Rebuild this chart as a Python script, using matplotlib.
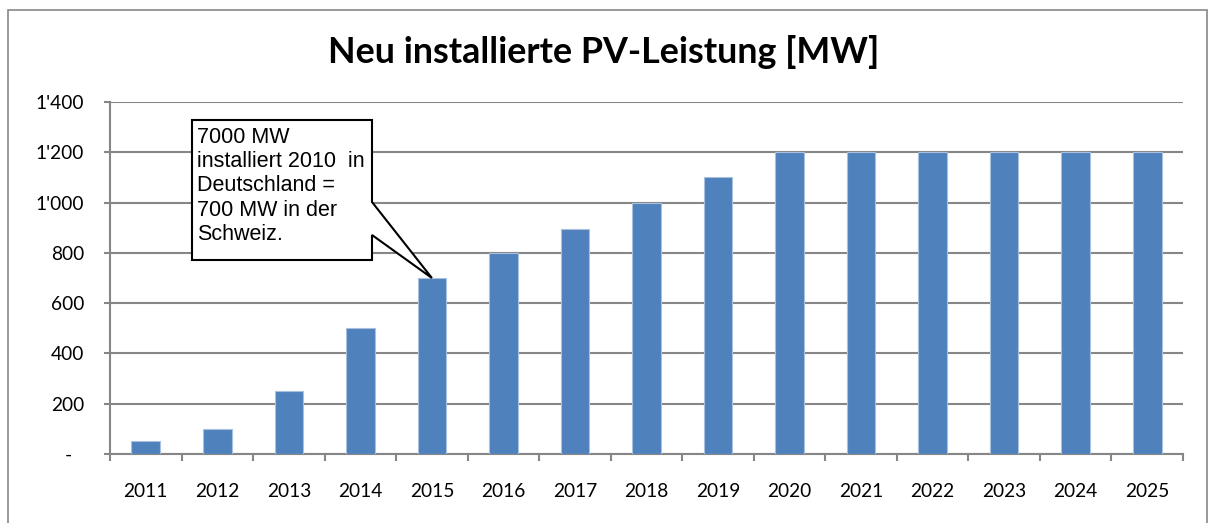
import matplotlib
matplotlib.use("Agg")
import matplotlib.pyplot as plt
from matplotlib.patches import Rectangle, Polygon
from matplotlib.transforms import ScaledTranslation
from matplotlib.ticker import FixedLocator

years = [str(y) for y in range(2011, 2026)]
values = [50, 100, 250, 500, 700, 800, 895, 1000, 1100, 1200, 1200, 1200, 1200, 1200, 1200]
yticks = [0, 200, 400, 600, 800, 1000, 1200, 1400]
ytick_labels = ["-", "200", "400", "600", "800", "1'000", "1'200", "1'400"]
title = "Neu installierte PV-Leistung [MW]"
note = "7000 MW\ninstalliert 2010  in\nDeutschland =\n700 MW in der\nSchweiz."
note_index = 4

W, H = 1212, 523
fig = plt.figure(figsize=(W / 100, H / 100), dpi=100)
fig.patch.set_facecolor("white")

# outer chart border
fig.patches.append(Rectangle((8 / W, -0.02), (1207 - 8) / W, 1 - 10 / H + 0.02,
                             transform=fig.transFigure, fill=False,
                             edgecolor="#878787", lw=1.2))

ax = fig.add_axes([110 / W, 1 - 454 / H, (1183 - 110) / W, (454 - 102) / H])
grid_c = "#868686"
x = list(range(len(years)))
ax.bar(x, values, width=0.4, color="#4F81BD", edgecolor="#A9C1DF", lw=0.8, zorder=3)

ax.set_xlim(-0.5, len(years) - 0.5)
ax.set_ylim(0, 1400)
ax.set_yticks(yticks)
ax.set_yticklabels(ytick_labels)
ax.yaxis.grid(True, color=grid_c, lw=1.5, zorder=0)
ax.set_axisbelow(True)

ax.set_xticks(x)
ax.set_xticklabels(years)
ax.xaxis.set_minor_locator(FixedLocator([i - 0.5 for i in range(len(years) + 1)]))
ax.tick_params(axis="x", which="major", length=0, pad=21)
ax.tick_params(axis="x", which="minor", length=5, width=1.5, color=grid_c, direction="out")
ax.tick_params(axis="y", length=4.5, width=1.5, color=grid_c, direction="out", pad=14)

for s in ["top", "right"]:
    ax.spines[s].set_visible(False)
for s in ["left", "bottom"]:
    ax.spines[s].set_color(grid_c)
    ax.spines[s].set_linewidth(1.5)

for lab in ax.get_xticklabels() + ax.get_yticklabels():
    lab.set_fontfamily("Lato")
    lab.set_fontsize(13.8)
    lab.set_color("black")

zero_lab = ax.get_yticklabels()[0]
zero_lab.set_transform(zero_lab.get_transform() + ScaledTranslation(-12 / 100, 0, fig.dpi_scale_trans))

fig.text(604 / W, 1 - 52 / H, title, ha="center", va="center",
         fontfamily="Lato", fontweight="bold", fontsize=25.8)

# callout box (data coordinates, pointing to the bar)
def px_to_data(px, py):
    inv = ax.transData.inverted()
    return inv.transform((px, H - py))

fig.canvas.draw()
tip = (note_index, values[note_index])
pts = [px_to_data(192, 120), px_to_data(372, 120), px_to_data(372, 202),
       tip, px_to_data(372, 235), px_to_data(372, 260), px_to_data(192, 260)]
poly = Polygon(pts, closed=True, facecolor="white", edgecolor="black", lw=1.5,
               zorder=5, clip_on=False, joinstyle="miter")
ax.add_patch(poly)
tx, ty = px_to_data(197, 127)
ax.text(tx, ty, note, ha="left", va="top", fontfamily="Liberation Sans",
        fontsize=15.5, linespacing=1.2, zorder=6)

fig.savefig("out.png", dpi=100)
